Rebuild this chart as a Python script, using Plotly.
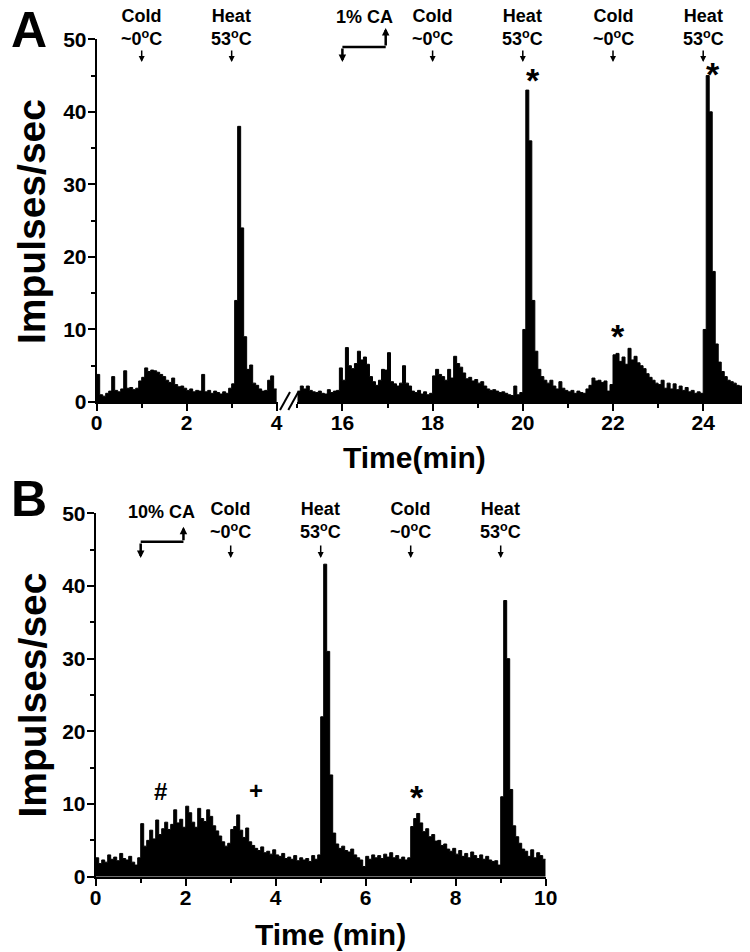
import plotly.graph_objects as go

# the page adds an 8 px body margin, so the figure is shrunk by that much
OFFSET = 8
W, H = 750 - OFFSET, 952 - OFFSET
FONT = 'Liberation Sans, Arial, sans-serif'
BIN_MIN = 4 / 60  # 4 s bins

# Panel A, before the axis break (min 0-4)
A_EARLY_START = 0.0
A_EARLY_RATE = [
    3.8, 1.0, 0.8, 1.2, 1.5, 3.5, 1.6, 1.4, 1.8, 4.3, 1.9, 2.0, 1.7, 1.9, 2.9,
    3.4, 4.7, 4.2, 4.4, 4.3, 4.1, 3.8, 3.5, 3.0, 2.7, 3.3, 2.4, 2.1, 2.2, 1.9,
    1.6, 1.8, 1.4, 1.6, 1.5, 3.8, 1.4, 1.6, 1.2, 1.5, 1.3, 1.1, 1.4, 1.2, 1.9,
    2.5, 14, 38, 24, 9, 4.5, 5.1, 2.6, 2.3, 1.8, 1.5, 1.6, 3.0, 3.6, 1.8,
]

# Panel A, after the axis break (min 15-25)
A_LATE_START = 15.0
A_LATE_RATE = [
    1.5, 2.2, 1.8, 2.2, 1.6, 1.4, 1.3, 1.5, 1.2, 1.1, 1.7, 1.3, 1.5, 1.6, 4.7,
    3.0, 7.5, 5.0, 4.6, 5.3, 7.0, 5.8, 6.2, 5.2, 3.5, 2.8, 2.3, 3.0, 4.5, 4.4,
    6.8, 2.8, 2.5, 2.2, 2.6, 5.0, 2.6, 2.2, 1.5, 1.3, 1.6, 1.1, 1.4, 1.0, 1.2,
    3.6, 4.5, 3.8, 3.5, 3.0, 4.5, 3.3, 6.3, 5.3, 4.8, 4.0, 3.2, 3.4, 2.9, 3.1,
    2.6, 2.8, 2.2, 1.8, 1.6, 1.7, 1.5, 1.3, 1.4, 1.2, 1.0, 0.9, 2.2, 1.0, 1.3,
    10, 43, 36, 14, 7, 4.5, 3.5, 3.0, 2.6, 3.0, 2.2, 1.8, 2.8, 1.9, 1.6,
    1.4, 1.6, 1.2, 1.5, 1.3, 1.2, 1.8, 2.3, 3.3, 2.9, 3.0, 2.7, 2.9, 1.5, 2.4,
    6.5, 6.7, 5.6, 6.2, 5.2, 7.4, 5.8, 6.3, 5.4, 5.0, 4.6, 3.9, 3.4, 3.0, 2.6,
    2.4, 3.0, 1.9, 2.6, 1.8, 2.5, 1.7, 2.2, 1.6, 2.0, 1.4, 1.6, 1.2, 1.4, 1.2,
    10, 45, 40, 18, 8, 5.5, 4.2, 3.5, 3.0, 2.8, 2.6, 2.3, 2.2, 2.0, 2.4,
]

# Panel B (min 0-10)
B_START = 0.0
B_RATE = [
    2.6, 1.8, 2.3, 2.0, 3.0, 2.4, 2.7, 2.2, 3.2, 2.5, 2.3, 2.8, 2.0, 1.6, 2.6,
    7.3, 4.2, 5.0, 6.4, 5.2, 7.8, 5.8, 6.6, 7.5, 6.5, 7.2, 9.2, 7.4, 7.9, 6.8,
    9.7, 8.8, 7.5, 6.8, 9.4, 8.0, 7.6, 9.2, 8.3, 7.0, 6.3, 5.6, 4.8, 4.2, 4.6,
    6.5, 6.9, 8.5, 6.4, 5.4, 6.7, 4.8, 4.3, 3.9, 3.6, 4.1, 3.3, 3.5, 3.1, 3.7,
    3.0, 2.8, 3.2, 2.5, 2.7, 2.4, 2.9, 2.2, 2.6, 2.3, 2.5, 2.1, 2.9, 2.4, 3.0,
    22, 43, 31, 14, 6, 4.5, 3.9, 4.2, 3.6, 3.4, 3.8, 3.0, 2.6, 2.3, 1.4,
    2.8, 2.4, 3.0, 2.6, 2.9, 2.5, 3.1, 2.7, 3.3, 2.6, 2.9, 2.4, 2.7, 2.3, 2.6,
    6.9, 8.0, 8.7, 7.4, 6.2, 6.6, 5.5, 5.8, 4.9, 5.0, 4.3, 4.5, 3.8, 3.5, 3.9,
    3.1, 3.6, 2.8, 3.2, 2.6, 3.4, 2.9, 2.5, 3.0, 2.4, 2.8, 2.3, 2.1, 2.2, 1.6,
    11, 38, 30, 12, 7, 5.5, 4.6, 3.8, 3.5, 2.8, 3.7, 2.6, 3.3, 2.9, 2.4,
]

COLD = 'Cold<br>~0<sup>o</sup>C'
HEAT = 'Heat<br>53<sup>o</sup>C'
A_STIM_TIMES = [1, 3, 18, 20, 22, 24]
A_STIM_AXES = ['x', 'x', 'x2', 'x2', 'x2', 'x2']
A_STIM_LABELS = [COLD, HEAT, COLD, HEAT, COLD, HEAT]
B_STIM_TIMES = [3, 5, 7, 9]
B_STIM_LABELS = [COLD, HEAT, COLD, HEAT]


def px(x):
    """page pixel column -> paper fraction"""
    return (x - OFFSET) / W


def py(y):
    """page pixel row -> paper fraction"""
    return 1 - (y - OFFSET) / H


def step_trace(start, rates, xaxis, yaxis):
    edges = [start + i * BIN_MIN for i in range(len(rates) + 1)]
    return go.Scatter(
        x=edges, y=rates + rates[-1:],
        mode='lines',
        line=dict(shape='hv', color='black', width=1),
        fill='tozeroy', fillcolor='black',
        xaxis=xaxis, yaxis=yaxis,
        hoverinfo='skip', showlegend=False
    )


def axis_style(domain, rng, anchor, dtick, minor_dtick, tick0=0, standoff=-6):
    return dict(
        domain=domain, range=rng, anchor=anchor,
        tick0=tick0, dtick=dtick,
        showline=True, linecolor='black', linewidth=2,
        ticks='outside', ticklen=7, tickwidth=2, tickcolor='black',
        minor=dict(ticks='outside', ticklen=4, tickwidth=2, tickcolor='black', dtick=minor_dtick),
        showgrid=False, zeroline=False,
        ticklabelstandoff=standoff,
        tickfont=dict(family=FONT, size=21, color='black', weight='bold')
    )


fig = go.Figure()
fig.add_trace(step_trace(A_EARLY_START, A_EARLY_RATE, 'x', 'y'))
fig.add_trace(step_trace(A_LATE_START, A_LATE_RATE, 'x2', 'y'))
fig.add_trace(step_trace(B_START, B_RATE, 'x3', 'y2'))

fig.update_layout(
    width=W, height=H,
    margin=dict(l=0, r=0, t=0, b=0, autoexpand=False),
    paper_bgcolor='white', plot_bgcolor='white',
    showlegend=False,
    xaxis=axis_style([px(96.7), px(278)], [0, 4.03], 'y', 2, 1),
    xaxis2=axis_style([px(297.3), px(748.3)], [15, 25], 'y', 2, 1, tick0=16),
    yaxis=axis_style([py(402), py(39.3)], [0, 50], 'x', 10, 5, standoff=-3),
    xaxis3=axis_style([px(95.7), px(545.7)], [0, 10], 'y2', 2, 1),
    yaxis2=axis_style([py(876.7), py(513.3)], [0, 50], 'x3', 10, 5, standoff=-3),
)


def text_note(text, x, y, size, xref='paper', yref='paper', angle=0):
    return dict(text=text, x=x, y=y, xref=xref, yref=yref, showarrow=False,
                textangle=angle, xanchor='center', yanchor='middle',
                font=dict(family=FONT, size=size, color='black', weight='bold'))


def arrow_note(x, y_tip, length, xref, width=1.5, size=1.0):
    # ay > 0 puts the tail below the tip (up arrow), ay < 0 above (down arrow)
    return dict(text='', x=x, y=py(y_tip), xref=xref, yref='paper',
                showarrow=True, ax=0, ay=length, arrowhead=2, arrowsize=size,
                arrowwidth=width, arrowcolor='black', standoff=0)


notes = [
    text_note('A', px(28.5), py(30), 50),
    text_note('B', px(29), py(499), 50),
    text_note('Impulses/sec', px(31.5), py(221.5), 39, angle=-90),
    text_note('Impulses/sec', px(31.5), py(695), 39, angle=-90),
    text_note('Time(min)', px(415), py(457), 30),
    text_note('Time (min)', px(330.5), py(934), 30),
]

for t, ax, label in zip(A_STIM_TIMES, A_STIM_AXES, A_STIM_LABELS):
    notes.append(dict(text=label, x=t, y=py(51), xref=ax, yref='paper', showarrow=False,
                      xanchor='center', yanchor='bottom',
                      font=dict(family=FONT, size=18, color='black', weight='bold')))
    notes.append(arrow_note(t, 62, -13, ax, size=0.8))

for t, label in zip(B_STIM_TIMES, B_STIM_LABELS):
    notes.append(dict(text=label, x=t, y=py(544), xref='x3', yref='paper', showarrow=False,
                      xanchor='center', yanchor='bottom',
                      font=dict(family=FONT, size=18, color='black', weight='bold')))
    notes.append(arrow_note(t, 558, -14, 'x3', size=0.8))

# capsaicin application steps
notes += [
    text_note('1% CA', 16.48, py(17.5), 18, xref='x2'),
    arrow_note(16.0, 62, -15, 'x2', width=2.5, size=0.6),
    arrow_note(16.96, 28, 19, 'x2', width=2.5, size=0.6),
    text_note('10% CA', 1.47, py(511.5), 18, xref='x3'),
    arrow_note(1.0, 558, -16, 'x3', width=2.5, size=0.6),
    arrow_note(1.95, 526.7, 15, 'x3', width=2.5, size=0.6),
]

# response markers
notes += [
    text_note('*', 20.22, 44.4, 34, xref='x2', yref='y'),
    text_note('*', 24.22, 45.2, 34, xref='x2', yref='y'),
    text_note('*', 22.12, 9.1, 34, xref='x2', yref='y'),
    text_note('#', 1.43, 11.7, 24, xref='x3', yref='y2'),
    text_note('+', 3.56, 11.9, 24, xref='x3', yref='y2'),
    text_note('*', 7.13, 11.0, 34, xref='x3', yref='y2'),
]

fig.update_layout(annotations=notes)

shapes = [
    dict(type='line', xref='x2', yref='paper', x0=16.0, x1=16.96, y0=py(47), y1=py(47),
         line=dict(color='black', width=2.5)),
    dict(type='line', xref='x3', yref='paper', x0=1.0, x1=1.95, y0=py(541.7), y1=py(541.7),
         line=dict(color='black', width=2.5)),
    # axis break marks
    dict(type='line', xref='paper', yref='paper', x0=px(280), x1=px(290), y0=py(410), y1=py(392),
         line=dict(color='black', width=2)),
    dict(type='line', xref='paper', yref='paper', x0=px(288.3), x1=px(298.3), y0=py(410), y1=py(392),
         line=dict(color='black', width=2)),
]
fig.update_layout(shapes=shapes)

fig.write_html("out.html")
